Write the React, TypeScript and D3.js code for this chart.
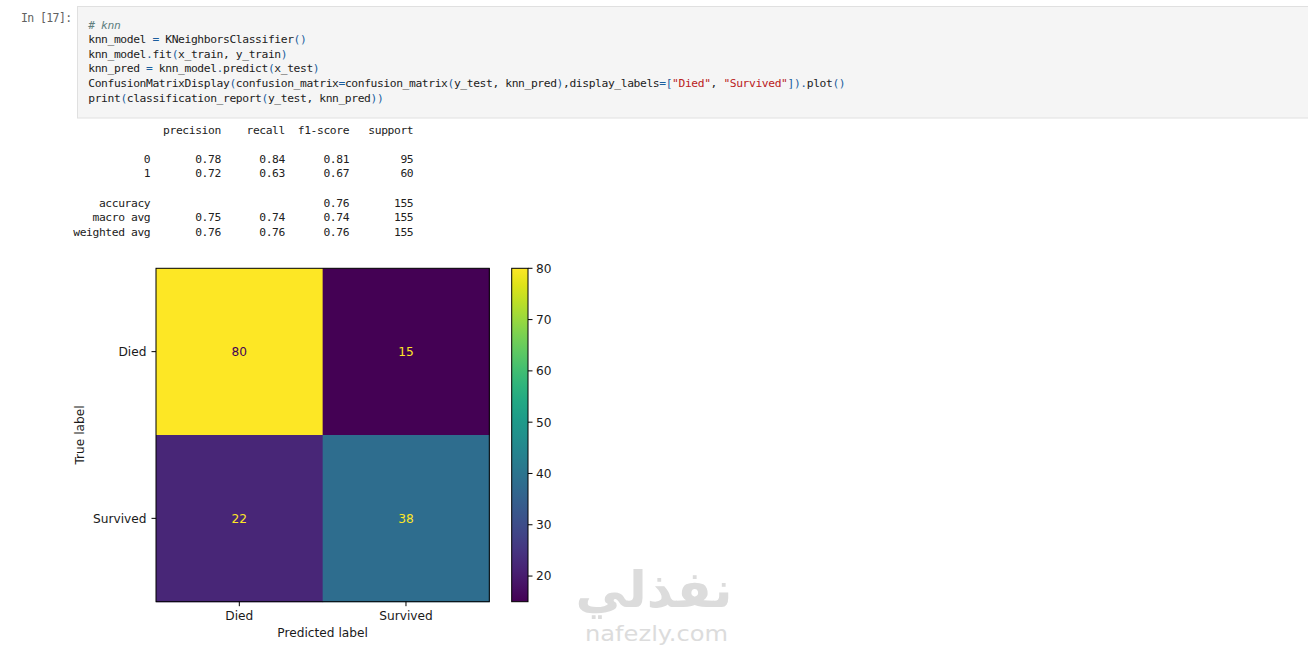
import React from "react";
import * as d3 from "d3";

// ---------- data ----------
const classLabels = ["Died", "Survived"];
const trueDied = [80, 15];
const trueSurvived = [22, 38];
const colorbarTicks = [20, 30, 40, 50, 60, 70, 80];

const promptText = "In [17]:";
const codeLines = [
  "# knn",
  "knn_model = KNeighborsClassifier()",
  "knn_model.fit(x_train, y_train)",
  "knn_pred = knn_model.predict(x_test)",
  'ConfusionMatrixDisplay(confusion_matrix=confusion_matrix(y_test, knn_pred),display_labels=["Died", "Survived"]).plot()',
  "print(classification_report(y_test, knn_pred))",
];

const reportHeader = ["precision", "recall", "f1-score", "support"];
const reportRowNames = ["0", "1", "", "accuracy", "macro avg", "weighted avg"];
const reportPrecision = ["0.78", "0.72", "", "", "0.75", "0.76"];
const reportRecall = ["0.84", "0.63", "", "", "0.74", "0.76"];
const reportF1 = ["0.81", "0.67", "", "0.76", "0.74", "0.76"];
const reportSupport = ["95", "60", "", "155", "155", "155"];

// ---------- helpers ----------
const pad = (s: string, w: number) => (s.length >= w ? s : " ".repeat(w - s.length) + s);

function buildReport(): string[] {
  const lines: string[] = [];
  lines.push(pad("", 12) + " " + reportHeader.map((h) => " " + pad(h, 9)).join(""));
  lines.push("");
  reportRowNames.forEach((n, i) => {
    if (n === "" && reportSupport[i] === "") {
      lines.push("");
      return;
    }
    lines.push(
      pad(n, 12) +
        " " +
        [reportPrecision[i], reportRecall[i], reportF1[i], reportSupport[i]]
          .map((v) => " " + pad(v, 9))
          .join("")
    );
  });
  return lines;
}

function tokenize(line: string): { t: string; c: string; col: number; italic?: boolean }[] {
  if (line.startsWith("#")) return [{ t: line, c: "#5f7f7f", col: 0, italic: true }];
  const out: { t: string; c: string; col: number }[] = [];
  const re = /("[^"]*")|([()=.\[\]])|([^"()=.\[\]]+)/g;
  let m: RegExpExecArray | null;
  while ((m = re.exec(line))) {
    const col = m.index;
    if (m[1]) out.push({ t: m[1], c: "#ba2121", col });
    else if (m[2]) out.push({ t: m[2], c: "#1b5e9e", col });
    else out.push({ t: m[3], c: "#212121", col });
  }
  return out;
}

const CHAR_W = 6.415;
const MONO = "'DejaVu Sans Mono', 'Liberation Mono', monospace";
const SANS = "'DejaVu Sans', sans-serif";
const INK = "#1a1a1a";

export default function App() {
  const matrix = [trueDied, trueSurvived];
  const flat = matrix.flat();
  const vmin = d3.min(flat)!;
  const vmax = d3.max(flat)!;

  // plot geometry
  const px0 = 156,
    px1 = 489.3,
    py0 = 268.3,
    py1 = 601.7;
  const xBand = d3.scaleBand<string>().domain(classLabels).range([px0, px1]);
  const yBand = d3.scaleBand<string>().domain(classLabels).range([py0, py1]);
  const color = d3.scaleSequential(d3.interpolateViridis).domain([vmin, vmax]);
  const thresh = (vmin + vmax) / 2;

  // colorbar
  const cbx0 = 511.7,
    cbx1 = 528;
  const cbScale = d3.scaleLinear().domain([vmin, vmax]).range([py1, py0]);
  const gradStops = d3.range(0, 1.0001, 0.05);

  const report = buildReport();

  return (
    <svg
      width={1308}
      height={652}
      style={{ position: "absolute", left: 0, top: 0, background: "#fff" }}
      xmlns="http://www.w3.org/2000/svg"
    >
      <defs>
        <linearGradient id="cbgrad" x1="0" y1="1" x2="0" y2="0">
          {gradStops.map((t) => (
            <stop key={t} offset={t} stopColor={d3.interpolateViridis(t)} />
          ))}
        </linearGradient>
      </defs>
      <rect x={0} y={0} width={1308} height={652} fill="#fff" />

      {/* prompt */}
      <text
        x={21}
        y={22}
        fontFamily={MONO}
        fontSize={11.5}
        letterSpacing={-0.6}
        fill="#616161"
        style={{ whiteSpace: "pre" }}
      >
        {promptText}
      </text>

      {/* code cell */}
      <rect x={77.5} y={6.5} width={1240} height={111.5} fill="#f5f5f5" stroke="#e0e0e0" strokeWidth={1} />
      {codeLines.map((line, i) => (
        <g key={i}>
          {tokenize(line).map((tk, j) => (
            <text
              key={j}
              x={88.3 + tk.col * CHAR_W}
              y={28.5 + i * 14.65}
              fontFamily={MONO}
              fontSize={11.3}
              letterSpacing={CHAR_W - 0.602 * 11.3}
              fill={tk.c}
              fontStyle={(tk as any).italic ? "italic" : "normal"}
              style={{ whiteSpace: "pre" }}
            >
              {tk.t}
            </text>
          ))}
        </g>
      ))}

      {/* classification report */}
      {report.map((line, i) =>
        line ? (
          <text
            key={i}
            x={73.3}
            y={133.5 + i * 14.6}
            fontFamily={MONO}
            fontSize={11.3}
            letterSpacing={CHAR_W - 0.602 * 11.3}
            fill="#212121"
            style={{ whiteSpace: "pre" }}
          >
            {line}
          </text>
        ) : null
      )}

      {/* confusion matrix cells */}
      {matrix.map((row, ri) =>
        row.map((v, ci) => (
          <rect
            key={`${ri}-${ci}`}
            x={xBand(classLabels[ci])!}
            y={yBand(classLabels[ri])!}
            width={xBand.bandwidth() + 0.5}
            height={yBand.bandwidth() + 0.5}
            fill={color(v)}
          />
        ))
      )}
      {matrix.map((row, ri) =>
        row.map((v, ci) => (
          <text
            key={`t${ri}-${ci}`}
            x={xBand(classLabels[ci])! + xBand.bandwidth() / 2}
            y={yBand(classLabels[ri])! + yBand.bandwidth() / 2 + 4.4}
            textAnchor="middle"
            fontFamily={SANS}
            fontSize={12.2}
            fill={v < thresh ? d3.interpolateViridis(1) : d3.interpolateViridis(0)}
          >
            {v}
          </text>
        ))
      )}
      <rect x={px0} y={py0} width={px1 - px0} height={py1 - py0} fill="none" stroke="#000" strokeWidth={1} />

      {/* x axis */}
      {classLabels.map((l) => {
        const cx = xBand(l)! + xBand.bandwidth() / 2;
        return (
          <g key={"x" + l}>
            <line x1={cx} x2={cx} y1={py1} y2={py1 + 4.5} stroke="#000" strokeWidth={1} />
            <text x={cx} y={619.5} textAnchor="middle" fontFamily={SANS} fontSize={12.2} fill={INK}>
              {l}
            </text>
          </g>
        );
      })}
      <text x={(px0 + px1) / 2} y={637} textAnchor="middle" fontFamily={SANS} fontSize={12.2} fill={INK}>
        Predicted label
      </text>

      {/* y axis */}
      {classLabels.map((l) => {
        const cy = yBand(l)! + yBand.bandwidth() / 2;
        return (
          <g key={"y" + l}>
            <line x1={px0 - 4.5} x2={px0} y1={cy} y2={cy} stroke="#000" strokeWidth={1} />
            <text x={146.5} y={cy + 4.4} textAnchor="end" fontFamily={SANS} fontSize={12.2} fill={INK}>
              {l}
            </text>
          </g>
        );
      })}
      <text
        transform={`translate(84.4, ${(py0 + py1) / 2}) rotate(-90)`}
        textAnchor="middle"
        fontFamily={SANS}
        fontSize={12.2}
        fill={INK}
      >
        True label
      </text>

      {/* colorbar */}
      <rect x={cbx0} y={py0} width={cbx1 - cbx0} height={py1 - py0} fill="url(#cbgrad)" />
      <rect x={cbx0} y={py0} width={cbx1 - cbx0} height={py1 - py0} fill="none" stroke="#000" strokeWidth={1} />
      {colorbarTicks.map((t) => {
        const ty = cbScale(t);
        return (
          <g key={"cb" + t}>
            <line x1={cbx1} x2={cbx1 + 4.5} y1={ty} y2={ty} stroke="#000" strokeWidth={1} />
            <text x={536} y={ty + 4.4} fontFamily={SANS} fontSize={12.2} fill={INK}>
              {t}
            </text>
          </g>
        );
      })}

      {/* watermark */}
      <text
        x={654}
        y={607}
        textAnchor="middle"
        fontFamily={SANS}
        fontWeight="bold"
        fontSize={50}
        fill="#dcdcdc"
        direction="rtl"
        textLength={157}
        lengthAdjust="spacingAndGlyphs"
      >
        نفذلي
      </text>
      <text
        x={585}
        y={641}
        fontFamily={SANS}
        fontSize={22}
        fill="#dcdcdc"
        textLength={143}
        lengthAdjust="spacingAndGlyphs"
      >
        nafezly.com
      </text>
    </svg>
  );
}
